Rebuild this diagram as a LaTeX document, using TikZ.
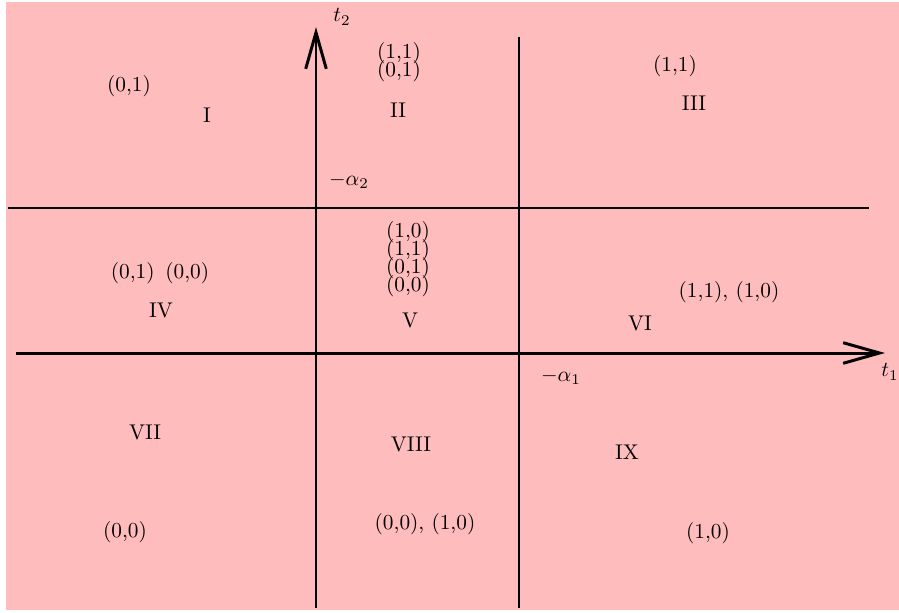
\documentclass[tikz,border=0pt]{standalone}
\usepackage{tikz}
\usetikzlibrary{arrows.meta,positioning}
\definecolor{regionpink}{RGB}{255,188,188}
\tikzset{
 axisline/.style={
 -{Straight Barb[length=6mm,width=3.4mm]},
 line width=1.4pt,
 draw=black
 },
 boundline/.style={line width=0.7pt, draw=black},
 region/.style={font=\normalsize, inner sep=1pt},
 pairs/.style={font=\normalsize, align=center, inner sep=1pt},
 axislabel/.style={font=\normalsize, inner sep=1pt}
}

\begin{document}
\begin{tikzpicture}[x=0.0165cm, y=-0.0165cm]
 \useasboundingbox (0,0) rectangle (899,612);
 \fill[regionpink] (6,2) rectangle (905,610);

 % axes and bounds
 \coordinate (xstart) at (16,353);
 \coordinate (xend) at (885,353);
 \coordinate (ystart) at (316,608);
 \coordinate (yend) at (316,27);
 \coordinate (hleft) at (8,208);
 \coordinate (hright) at (869,208);
 \coordinate (vtop) at (519,37);
 \coordinate (vbottom) at (519,608);

 \draw[boundline] (hleft) -- (hright);
 \draw[boundline] (vtop) -- (vbottom);
 \draw[axisline] (xstart) -- (xend);
 \draw[axisline] (ystart) -- (yend);

 \node[axislabel] (t2) at (342,17) {$t_2$};
 \node[axislabel] (t1) at (890,372) {$t_1$};
 \node[axislabel] (alpha2) at (349,181) {$-\alpha_2$};
 \node[axislabel] (alpha1) at (561,377) {$-\alpha_1$};

 % regions
 \node[region] (r1) at (207,115) {I};
 \node[region] (r2) at (398,110) {II};
 \node[region] (r3) at (694,103) {III};
 \node[region] (r4) at (161,310) {IV};
 \node[region] (r5) at (410,320) {V};
 \node[region] (r6) at (640,323) {VI};
 \node[region] (r7) at (145,432) {VII};
 \node[region] (r8) at (411,444) {VIII};
 \node[region] (r9) at (627,452) {IX};

 % outcomes
 \node[pairs] (p1) at (129,86) {(0,1)};
 \node[pairs] (p2) at (399,62) {(1,1)\\[-3.6pt](0,1)};
 \node[pairs] (p3) at (675,66) {(1,1)};
 \node[pairs] (p4) at (160,273) {(0,1)\enspace(0,0)};
 \node[pairs] (p5) at (408,259) {(1,0)\\[-3.6pt](1,1)\\[-3.6pt](0,1)\\[-3.6pt](0,0)};
 \node[pairs] (p6) at (729,292) {(1,1), (1,0)};
 \node[pairs] (p7) at (125,532) {(0,0)};
 \node[pairs] (p8) at (425,524) {(0,0), (1,0)};
 \node[pairs] (p9) at (708,533) {(1,0)};
\end{tikzpicture}
\end{document}
